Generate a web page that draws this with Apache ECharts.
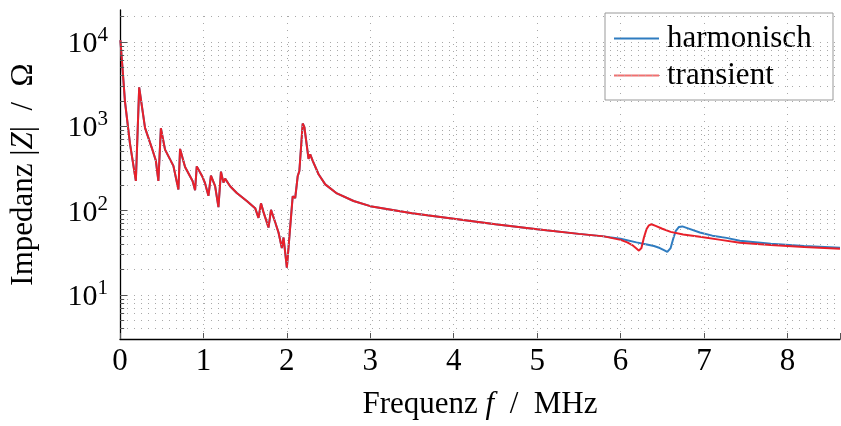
<!DOCTYPE html>
<html>
<head>
<meta charset="utf-8">
<script src="https://cdn.jsdelivr.net/npm/echarts@6/dist/echarts.min.js"></script>
<style>
  html, body { margin: 0; padding: 0; background: #fff; }
  #impChart { width: 841px; height: 426px; }
</style>
</head>
<body>
<div id="impChart"></div>
<script>
// Frequenz in MHz, Impedanz in Ohm
var freqCommon = [0.005, 0.06, 0.12, 0.19, 0.23, 0.30, 0.38, 0.43, 0.46, 0.49, 0.54, 0.64, 0.70, 0.72, 0.78, 0.87, 0.90, 0.92, 0.99, 1.02, 1.06, 1.09, 1.14, 1.18, 1.21, 1.24, 1.26, 1.32, 1.40, 1.52, 1.54, 1.62, 1.66, 1.69, 1.72, 1.78, 1.81, 1.85, 1.90, 1.94, 1.96, 2.00, 2.05, 2.07, 2.10, 2.13, 2.15, 2.19, 2.21, 2.26, 2.28, 2.31, 2.38, 2.46, 2.60, 2.80, 3.00, 3.50, 4.00, 4.50, 5.00, 5.50, 5.80];
var zCommon = [10500, 1950, 620, 225, 2900, 960, 560, 390, 225, 950, 530, 340, 178, 540, 330, 225, 175, 335, 250, 210, 150, 260, 195, 110, 290, 215, 240, 195, 162, 130, 133, 107, 82, 122, 96, 63, 102, 78, 55, 36, 48, 21, 85, 148, 141, 257, 295, 1080, 980, 410, 465, 390, 270, 205, 160, 130, 113, 93, 80, 69, 60, 53, 49.5];

var freqHarmTail = [6.00, 6.19, 6.30, 6.40, 6.47, 6.52, 6.56, 6.60, 6.63, 6.66, 6.70, 6.74, 6.80, 6.95, 7.10, 7.27, 7.43, 7.80, 8.20, 8.63];
var zHarmTail = [46.5, 42, 40, 38, 36, 34, 32.4, 36, 46, 57, 64, 65, 62, 55, 50.5, 47.5, 44, 40.5, 38, 36.3];

var freqTransTail = [6.00, 6.08, 6.14, 6.19, 6.22, 6.25, 6.28, 6.31, 6.34, 6.37, 6.42, 6.50, 6.60, 6.75, 6.95, 7.20, 7.43, 7.80, 8.20, 8.63];
var zTransTail = [45, 42, 39, 35.5, 33.5, 36, 48, 60, 67, 69, 66, 61, 56, 52, 49, 45, 41.5, 39, 37, 35.2];

var xTicks = [1, 2, 3, 4, 5, 6, 7, 8];
var yDecades = [1, 10, 100, 1000, 10000];
var yMinors = [1, 2, 3, 4, 5, 6, 7, 8, 9];

var fontFam = '"Liberation Serif", "DejaVu Serif", serif';
var fs = 31;

function zip(xs, ys) {
  var out = [];
  for (var i = 0; i < xs.length; i++) out.push([xs[i], ys[i]]);
  return out;
}

var harmData = zip(freqCommon.concat(freqHarmTail), zCommon.concat(zHarmTail));
var transData = zip(freqCommon.concat(freqTransTail), zCommon.concat(zTransTail));

// Gitterlinien und Ticks
var gridLines = [];
var tickLines = [];
xTicks.forEach(function (x) {
  gridLines.push({ xAxis: x });
});
yDecades.forEach(function (dec) {
  yMinors.forEach(function (m) {
    var v = dec * m;
    if (v <= 3 || v > 24000) return;
    gridLines.push({ yAxis: v });
    var len = (m === 1) ? 0.085 : 0.05;
    tickLines.push([{ coord: [0, v] }, { coord: [len, v] }]);
  });
});

var chart = echarts.init(document.getElementById('impChart'));
var option = {
  animation: false,
  backgroundColor: '#fff',
  grid: {
    left: 120,
    right: 1,
    top: 10,
    bottom: 87,
    outerBoundsMode: 'none'
  },
  legend: {
    data: ['harmonisch', 'transient'],
    orient: 'vertical',
    right: 8,
    top: 13,
    icon: 'rect',
    itemWidth: 45,
    itemHeight: 2,
    itemGap: 4,
    padding: [9, 10, 8, 9],
    borderColor: '#999',
    borderWidth: 1,
    backgroundColor: '#fff',
    textStyle: { fontFamily: fontFam, fontSize: fs, color: '#000', lineHeight: 33, width: 156, padding: [0, 0, 0, 3] }
  },
  xAxis: {
    type: 'value',
    min: 0,
    max: 8.63,
    interval: 1,
    name: '{n|Frequenz }{i|f}{n|  /  MHz}',
    nameLocation: 'middle',
    nameGap: 50,
    nameTextStyle: {
      rich: {
        n: { fontFamily: fontFam, fontSize: fs, color: '#000' },
        i: { fontFamily: fontFam, fontSize: fs, fontStyle: 'italic', color: '#000' }
      }
    },
    axisLine: { lineStyle: { color: '#000', width: 1.3 } },
    axisTick: { inside: true, length: 6, lineStyle: { color: '#555' } },
    axisLabel: {
      fontFamily: fontFam,
      fontSize: fs,
      color: '#000',
      margin: 7,
      formatter: function (v) {
        return Math.abs(v - Math.round(v)) < 1e-6 ? String(Math.round(v)) : '';
      }
    },
    splitLine: { show: false }
  },
  yAxis: {
    type: 'log',
    logBase: 10,
    min: 3,
    max: 24000,
    name: '{n|Impedanz |}{i|Z}{n||  /  Ω}',
    nameLocation: 'middle',
    nameRotate: 90,
    nameGap: 81,
    nameTextStyle: {
      rich: {
        n: { fontFamily: fontFam, fontSize: fs, color: '#000' },
        i: { fontFamily: fontFam, fontSize: fs, fontStyle: 'italic', color: '#000' }
      }
    },
    axisLine: { show: true, lineStyle: { color: '#000', width: 1.3 } },
    axisTick: { show: false },
    axisLabel: {
      margin: 12,
      formatter: function (v) {
        var e = Math.log(v) / Math.LN10;
        var r = Math.round(e);
        if (Math.abs(e - r) > 1e-6) return '';
        return '{b|10}{s|' + r + '}';
      },
      rich: {
        b: { fontFamily: fontFam, fontSize: 30, color: '#000', verticalAlign: 'bottom', lineHeight: 34 },
        s: { fontFamily: fontFam, fontSize: 21, color: '#000', verticalAlign: 'top', lineHeight: 34 }
      }
    },
    splitLine: { show: false }
  },
  series: [
    {
      name: 'raster',
      type: 'line',
      data: [],
      silent: true,
      markLine: {
        silent: true,
        symbol: 'none',
        label: { show: false },
        animation: false,
        lineStyle: { color: '#a8a8a8', type: [1, 6], width: 1 },
        data: gridLines
      },
      z: 1
    },
    {
      name: 'ticks',
      type: 'line',
      data: [],
      silent: true,
      markLine: {
        silent: true,
        symbol: 'none',
        label: { show: false },
        animation: false,
        lineStyle: { color: '#555', type: 'solid', width: 1 },
        data: tickLines
      },
      z: 1
    },
    {
      name: 'harmonisch',
      type: 'line',
      data: harmData,
      showSymbol: false,
      symbol: 'none',
      lineStyle: { color: '#2f7cc0', width: 2 },
      itemStyle: { color: '#2f7cc0' },
      z: 3
    },
    {
      name: 'transient',
      type: 'line',
      data: transData,
      showSymbol: false,
      symbol: 'none',
      lineStyle: { color: '#e8202a', width: 2 },
      itemStyle: { color: '#f07070' },
      z: 4
    }
  ]
};
chart.setOption(option);
</script>
</body>
</html>
